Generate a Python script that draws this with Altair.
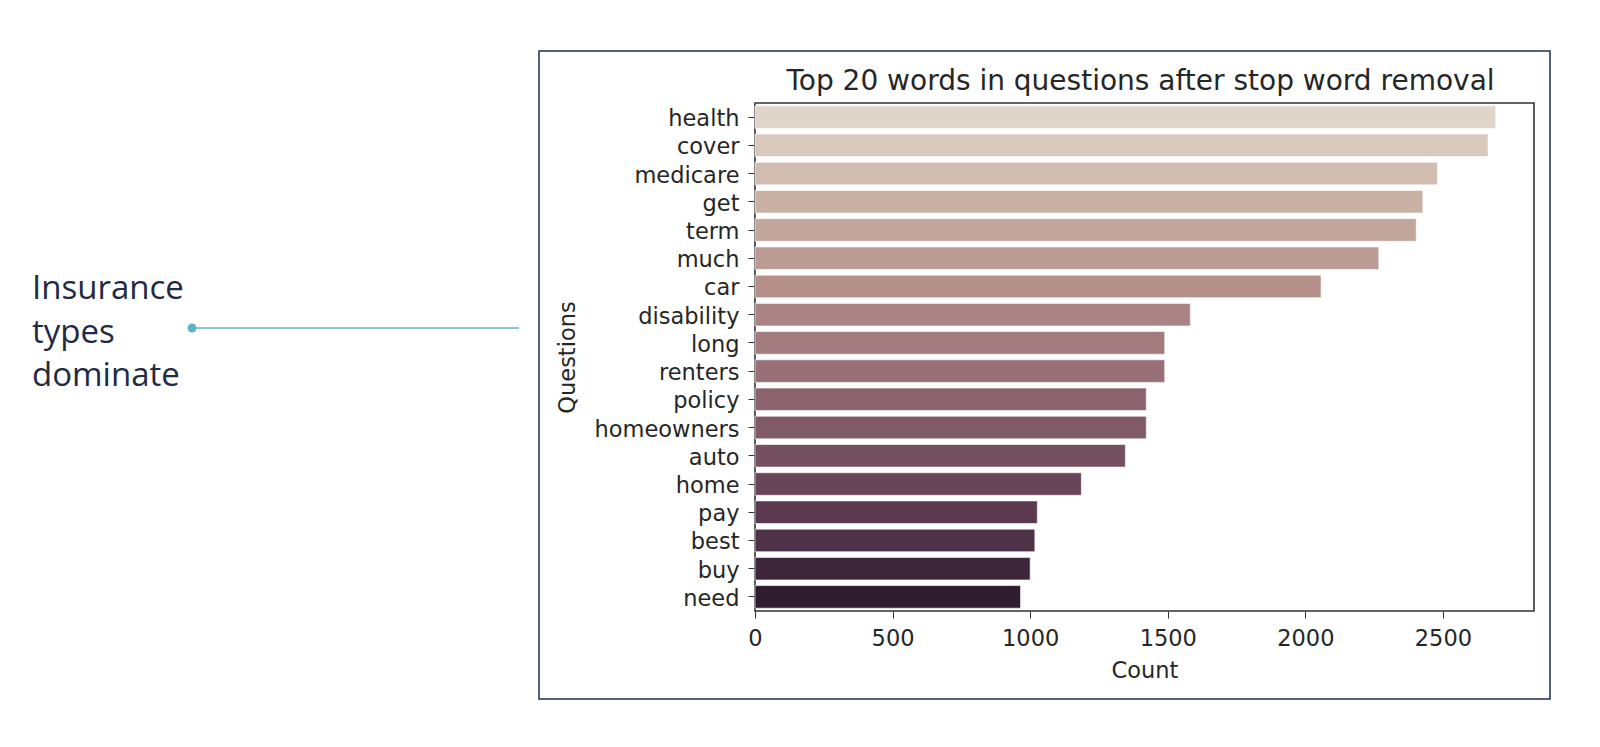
import altair as alt
import pandas as pd

words = ["health", "cover", "medicare", "get", "term", "much", "car", "disability",
         "long", "renters", "policy", "homeowners", "auto", "home", "pay", "best",
         "buy", "need"]
counts = [2692, 2664, 2480, 2427, 2403, 2267, 2057, 1582, 1489, 1489, 1422, 1422,
          1346, 1186, 1026, 1017, 1000, 965]
colors = ["#e0d5c9", "#d8c9bc", "#d0bdb0", "#c9b2a5", "#c2a69b", "#bb9b94", "#b49089",
          "#aa8384", "#a27b7e", "#976f77", "#8c646f", "#815a68", "#755060", "#684558",
          "#5b3a50", "#4d3146", "#3d2639", "#2f1d2f"]
x_ticks = [0, 500, 1000, 1500, 2000, 2500]
title_text = "Top 20 words in questions after stop word removal"
annotation_lines = ["Insurance", "types", "dominate"]

df = pd.DataFrame({"word": words, "count": counts})
one = pd.DataFrame({"k": [0]})

W, H = 779, 508
TXT = "#262626"

bars = alt.Chart(df).mark_bar(stroke="white", strokeWidth=0.6).encode(
    x=alt.X("count:Q",
            scale=alt.Scale(domain=[0, 2831], nice=False, zero=True),
            axis=alt.Axis(title="Count", values=x_ticks, format="d", grid=False, domain=False,
                          tickSize=7, tickColor="#333", labelPadding=9, labelFlush=False,
                          labelFontSize=22.5, titleFontSize=22.5, titleFontWeight="normal",
                          titlePadding=10, labelColor=TXT, titleColor=TXT,
                          labelFont="DejaVu Sans", titleFont="DejaVu Sans")),
    y=alt.Y("word:N", sort=words,
            scale=alt.Scale(paddingInner=0.2, paddingOuter=0.1),
            axis=alt.Axis(title="Questions", grid=False, domain=False,
                          tickSize=7, tickColor="#333", labelPadding=9, labelOffset=2,
                          labelFontSize=22.5, titleFontSize=22.5, titleFontWeight="normal",
                          titlePadding=14, labelColor=TXT, titleColor=TXT,
                          labelFont="DejaVu Sans", titleFont="DejaVu Sans")),
    color=alt.Color("word:N", scale=alt.Scale(domain=words, range=colors), legend=None),
)

title = alt.Chart(one).mark_text(
    text=title_text, font="DejaVu Sans", fontSize=28, color=TXT,
    align="center", baseline="alphabetic"
).encode(x=alt.value(W / 2 - 4), y=alt.value(-13))

box = alt.Chart(one).mark_rect(
    fill=None, fillOpacity=0, stroke="#1f2d4e", strokeWidth=1.5
).encode(x=alt.value(-216), x2=alt.value(795), y=alt.value(-52), y2=alt.value(596))

leader = alt.Chart(one).mark_rule(color="#5fb4c1", strokeWidth=1.5).encode(
    x=alt.value(-563), x2=alt.value(-236), y=alt.value(225)
)

dot = alt.Chart(one).mark_circle(color="#5fb4c1", opacity=1, size=80).encode(
    x=alt.value(-563), y=alt.value(225)
)

annot = alt.Chart(one).mark_text(
    text=annotation_lines, font="Open Sans", fontSize=33, color="#1f2a44",
    align="left", baseline="middle", lineHeight=43.5
).encode(x=alt.value(-723), y=alt.value(186))

chart = alt.layer(bars, title, box, leader, dot, annot).properties(
    width=W, height=H,
    autosize=alt.AutoSizeParams(type="none"),
    padding={"left": 755, "top": 103, "right": 66, "bottom": 136},
    background="white",
).configure_view(stroke="#333333", strokeWidth=1.6)

chart.save("out.html", embed_options={"renderer": "svg", "actions": False})
